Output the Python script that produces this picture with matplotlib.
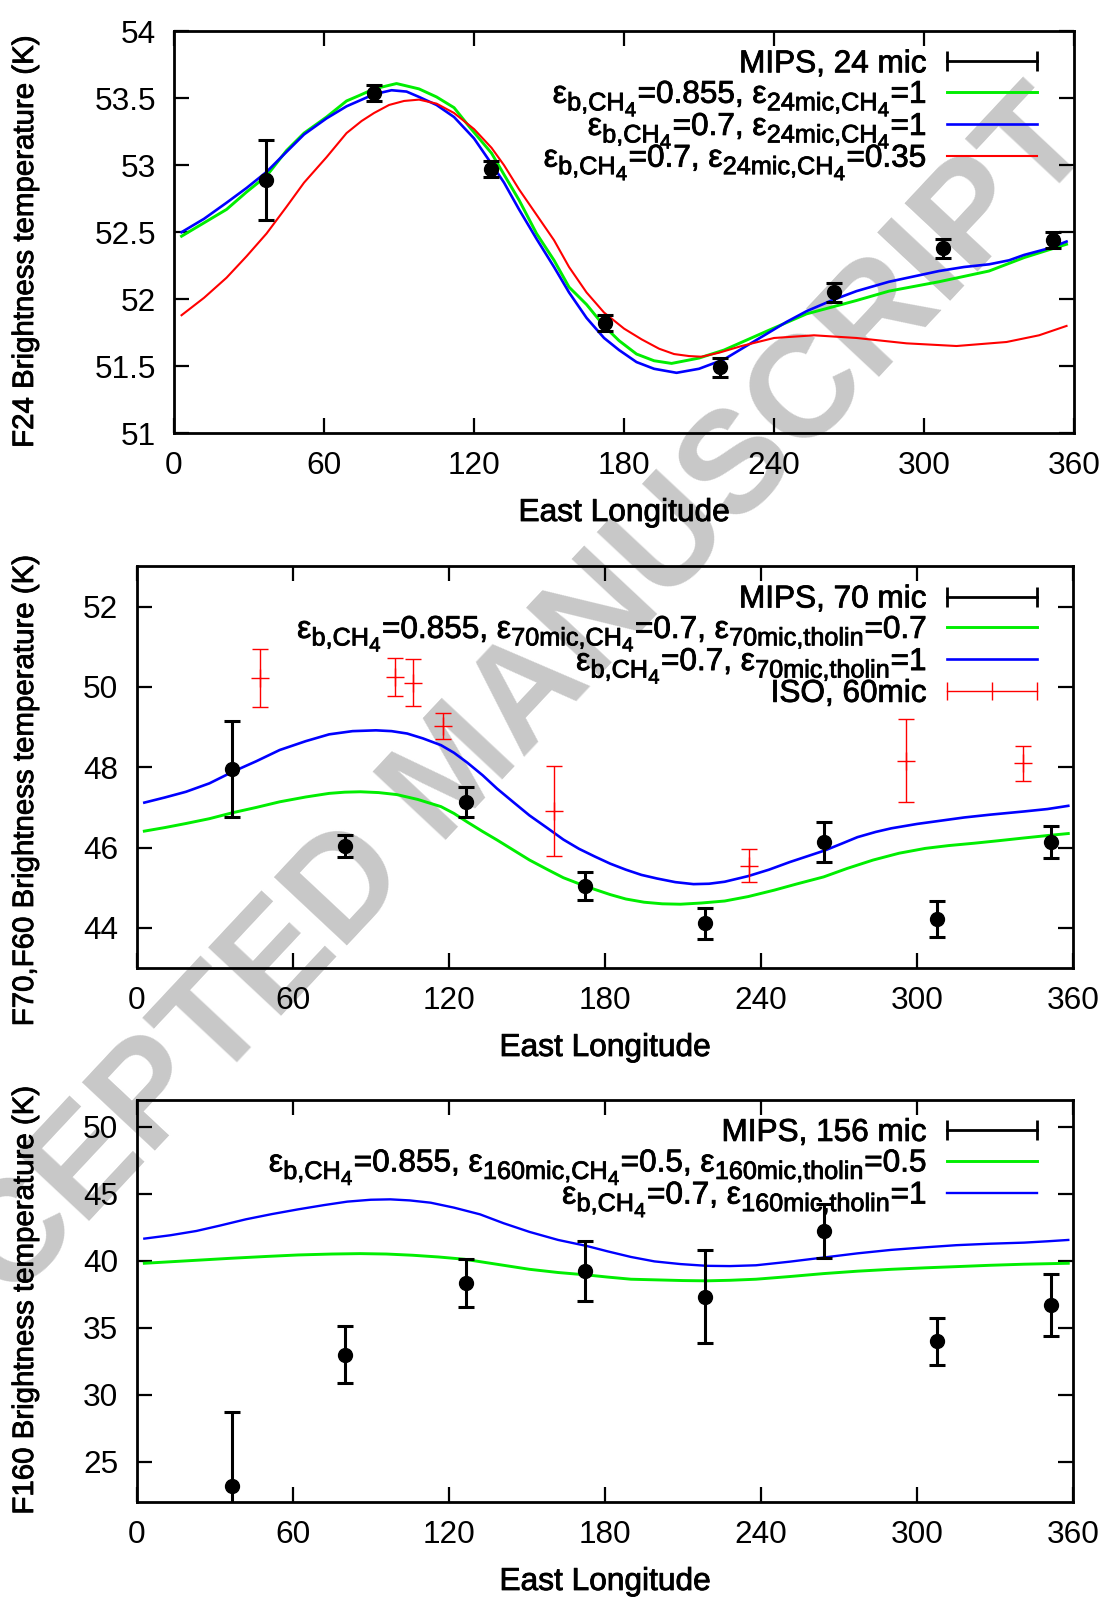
import numpy as np
import matplotlib
matplotlib.use('Agg')
import matplotlib.pyplot as plt
import matplotlib.patheffects as pe
import matplotlib._mathtext as _mt
from matplotlib.ticker import FormatStrFormatter

plt.rcParams['font.family'] = ['Liberation Sans', 'DejaVu Sans']
plt.rcParams['mathtext.fontset'] = 'custom'
plt.rcParams['mathtext.rm'] = 'Liberation Sans'
plt.rcParams['mathtext.it'] = 'Liberation Sans:italic'
plt.rcParams['mathtext.bf'] = 'Liberation Sans:bold'
# gnuplot-like subscripts: bigger and dropped lower
_mt.SHRINK_FACTOR = 0.8
_mt.FontConstantsBase.sub1 = 0.45

# MIPS observations (same longitudes in all three bands)
lon_mips = [36.8, 80.1, 126.7, 172.4, 218.4, 264.1, 307.5, 351.5]
t24 = [52.89, 53.54, 52.97, 51.82, 51.49, 52.05, 52.38, 52.44]
e24 = [0.30, 0.06, 0.06, 0.06, 0.07, 0.07, 0.07, 0.06]
t70 = [47.96, 46.04, 47.14, 45.05, 44.11, 46.14, 44.23, 46.13]
e70 = [1.19, 0.27, 0.37, 0.35, 0.38, 0.49, 0.45, 0.40]
t160 = [23.22, 32.98, 38.32, 39.24, 37.33, 42.22, 33.98, 36.68]
e160 = [5.5, 2.14, 1.8, 2.24, 3.45, 2.02, 1.77, 2.3]

# ISO 60 mic
lon_iso = [47.5, 99.2, 106.2, 117.6, 160.3, 235.3, 295.6, 340.6]
t60 = [50.22, 50.25, 50.11, 49.02, 46.91, 45.55, 48.16, 48.10]
e60 = [0.72, 0.47, 0.58, 0.32, 1.13, 0.41, 1.03, 0.44]

# model curves, 24 mic
lon_g24 = [3, 12, 21, 29, 37, 45, 52, 61, 69, 74, 80, 89, 98, 105, 112, 118, 127, 132, 138, 145, 152, 158,
           165, 172, 178, 185, 192, 199, 210, 220, 237, 253, 273, 286, 306, 326, 340, 357]
g24 = [52.47, 52.57, 52.67, 52.80, 52.92, 53.11, 53.24, 53.36, 53.48, 53.52, 53.57, 53.61, 53.57, 53.51,
       53.43, 53.29, 53.09, 52.93, 52.74, 52.49, 52.29, 52.09, 51.96, 51.80, 51.69, 51.59, 51.54, 51.52,
       51.56, 51.62, 51.76, 51.89, 51.99, 52.06, 52.13, 52.21, 52.31, 52.41]
lon_b24 = [3, 12, 21, 29, 37, 45, 52, 61, 69, 80, 87, 93, 98, 105, 112, 120, 127, 132, 138, 145, 152, 158,
           165, 172, 178, 185, 192, 201, 210, 220, 228, 237, 245, 253, 263, 273, 286, 306, 316, 326, 334,
           340, 350, 357]
b24 = [52.50, 52.60, 52.72, 52.83, 52.95, 53.10, 53.23, 53.35, 53.44, 53.53, 53.56, 53.55, 53.51, 53.45,
       53.36, 53.20, 53.01, 52.87, 52.67, 52.45, 52.24, 52.05, 51.86, 51.71, 51.62, 51.53, 51.48, 51.45,
       51.48, 51.55, 51.64, 51.74, 51.83, 51.91, 51.99, 52.06, 52.13, 52.21, 52.24, 52.26, 52.29, 52.33,
       52.38, 52.43]
lon_r24 = [3, 12, 21, 29, 37, 45, 52, 61, 69, 75, 80, 86, 92, 98, 105, 112, 120, 127, 132, 138, 145, 152,
           158, 165, 172, 180, 187, 194, 200, 206, 211, 218, 227, 240, 256, 273, 293, 313, 333, 346, 357]
r24 = [51.88, 52.01, 52.16, 52.32, 52.49, 52.69, 52.87, 53.06, 53.24, 53.33, 53.39, 53.45, 53.48, 53.49,
       53.46, 53.39, 53.27, 53.13, 53.00, 52.82, 52.63, 52.44, 52.24, 52.05, 51.90, 51.78, 51.70, 51.63,
       51.59, 51.575, 51.57, 51.60, 51.65, 51.71, 51.73, 51.71, 51.67, 51.65, 51.68, 51.73, 51.80]

# model curves, 70 mic
lon_b70 = [3, 11, 19, 28, 37, 46, 55, 65, 74, 83, 92, 98, 104, 110, 117, 122, 127, 133, 138.5, 145, 151,
           158, 164, 170, 176, 182, 188, 194, 200, 207, 214, 220, 226, 235, 243, 251, 258, 264.5, 271, 277,
           284, 290, 300, 309, 318, 328, 341, 350, 358]
b70 = [47.12, 47.25, 47.39, 47.60, 47.89, 48.15, 48.43, 48.65, 48.82, 48.90, 48.92, 48.90, 48.84, 48.72,
       48.55, 48.36, 48.12, 47.80, 47.47, 47.12, 46.80, 46.48, 46.20, 45.97, 45.78, 45.60, 45.45, 45.32,
       45.23, 45.14, 45.09, 45.10, 45.15, 45.29, 45.45, 45.64, 45.79, 45.93, 46.10, 46.26, 46.39, 46.48,
       46.59, 46.67, 46.75, 46.82, 46.90, 46.96, 47.04]
lon_g70 = [3, 11, 19, 28, 37, 46, 55, 65, 74, 80, 86, 93, 100, 108, 117, 122, 127, 133, 138.5, 145, 151,
           158, 164, 170, 176, 182, 188, 195, 202, 209, 217, 226, 235, 245, 254, 264, 273, 283, 293, 303,
           312, 322, 331, 341, 350, 358]
g70 = [46.41, 46.50, 46.60, 46.72, 46.87, 47.00, 47.14, 47.26, 47.35, 47.38, 47.39, 47.37, 47.32, 47.20,
       47.02, 46.85, 46.64, 46.40, 46.19, 45.93, 45.69, 45.45, 45.25, 45.10, 44.96, 44.83, 44.72, 44.64,
       44.60, 44.59, 44.62, 44.67, 44.78, 44.94, 45.10, 45.27, 45.48, 45.69, 45.86, 45.98, 46.05, 46.11,
       46.17, 46.24, 46.30, 46.35]

# model curves, 160 mic
lon_b160 = [3, 13, 23, 32, 42, 52, 62, 72, 81, 90, 97.5, 105, 113, 122, 132, 141, 151, 162, 173, 181, 190,
            199, 209, 219, 228, 238, 251, 264, 277, 290, 303, 315, 328, 341, 350, 358]
b160 = [41.65, 41.90, 42.22, 42.62, 43.09, 43.48, 43.83, 44.15, 44.41, 44.55, 44.58, 44.50, 44.33, 43.96,
        43.46, 42.80, 42.15, 41.55, 41.10, 40.70, 40.28, 39.95, 39.75, 39.62, 39.60, 39.66, 39.93, 40.24,
        40.55, 40.81, 41.00, 41.16, 41.27, 41.35, 41.45, 41.55]
lon_g160 = [3, 20, 36, 50, 62, 75, 86, 96, 106, 116, 126, 138, 151, 162, 173, 181, 190, 200, 210, 219, 228,
            238, 251, 264, 277, 290, 303, 315, 328, 341, 358]
g160 = [39.81, 40.00, 40.18, 40.32, 40.43, 40.50, 40.53, 40.50, 40.41, 40.28, 40.11, 39.75, 39.36, 39.12,
        38.94, 38.78, 38.62, 38.57, 38.52, 38.50, 38.54, 38.62, 38.82, 39.04, 39.22, 39.36, 39.47, 39.56,
        39.66, 39.74, 39.81]

labels24 = ['MIPS, 24 mic',
            r'ε$_{\mathrm{b{,}CH_4}}$=0.855, ε$_{\mathrm{24mic{,}CH_4}}$=1',
            r'ε$_{\mathrm{b{,}CH_4}}$=0.7, ε$_{\mathrm{24mic{,}CH_4}}$=1',
            r'ε$_{\mathrm{b{,}CH_4}}$=0.7, ε$_{\mathrm{24mic{,}CH_4}}$=0.35']
labels70 = ['MIPS, 70 mic',
            r'ε$_{\mathrm{b{,}CH_4}}$=0.855, ε$_{\mathrm{70mic{,}CH_4}}$=0.7, ε$_{\mathrm{70mic{,}tholin}}$=0.7',
            r'ε$_{\mathrm{b{,}CH_4}}$=0.7, ε$_{\mathrm{70mic{,}tholin}}$=1',
            'ISO, 60mic']
labels160 = ['MIPS, 156 mic',
             r'ε$_{\mathrm{b{,}CH_4}}$=0.855, ε$_{\mathrm{160mic{,}CH_4}}$=0.5, ε$_{\mathrm{160mic{,}tholin}}$=0.5',
             r'ε$_{\mathrm{b{,}CH_4}}$=0.7, ε$_{\mathrm{160mic{,}tholin}}$=1']

GREEN = '#00ee00'
BLUE = '#0000ff'
RED = '#ff0000'
FS = 22.7

fig = plt.figure(figsize=(11.1, 15.98), dpi=100)
fig.patch.set_facecolor('white')

ax1 = fig.add_axes([0.1568, 0.7290, 0.8108, 0.2514])
ax2 = fig.add_axes([0.1230, 0.3942, 0.8441, 0.2513])
ax3 = fig.add_axes([0.1230, 0.0601, 0.8441, 0.2516])

# watermark underneath everything
wm = fig.text(0.411, 1 - 774 / 1598, 'ACCEPTED MANUSCRIPT', rotation=46.9, rotation_mode='anchor',
              ha='center', va='center', fontsize=104, fontweight='bold', color='#c8c8c8', zorder=-5)


def style_axes(ax, ylim, yticks, ylabel, ylab_y, fmt):
    ax.set_facecolor('none')
    ax.set_xlim(0, 360)
    ax.set_ylim(*ylim)
    ax.set_xticks(range(0, 361, 60))
    ax.set_yticks(yticks)
    ax.yaxis.set_major_formatter(FormatStrFormatter(fmt))
    ax.tick_params(direction='in', length=11, width=1.6, top=True, right=True, labelsize=FS)
    ax.tick_params(axis='x', pad=13)
    ax.tick_params(axis='y', pad=13)
    for s in ax.spines.values():
        s.set_linewidth(2.0)
    ax.set_xlabel('East Longitude', fontsize=22.8, va='center')
    ax.xaxis.set_label_coords(0.5, -0.199)
    ax.set_ylabel(ylabel, fontsize=21.2, va='center')
    w = ax.get_position().width * 1110
    x0 = ax.get_position().x0 * 1110
    ax.yaxis.set_label_coords((25 - x0) / w, ylab_y)


def key(ax, labels, kinds):
    ys = [0.925, 0.849, 0.769, 0.690]
    x0, x1, xt = 0.8586, 0.9586, 0.8363
    if ax is not ax1:
        x0, x1, xt = 0.8647, 0.9608, 0.8434
    for y, lab, kind in zip(ys, labels, kinds):
        ax.text(xt, y - 0.027, lab, transform=ax.transAxes, ha='right', va='baseline', fontsize=FS)
        if kind == 'mips':
            ax.plot([x0, x1], [y, y], color='k', lw=2, transform=ax.transAxes)
            ax.plot([x0, x1], [y, y], ls='none', marker='|', ms=14, mew=2, color='k', transform=ax.transAxes)
        elif kind == 'iso':
            ax.plot([x0, x1], [y, y], color=RED, lw=1, transform=ax.transAxes)
            ax.plot([x0, (x0 + x1) / 2, x1], [y, y, y], ls='none', marker='|', ms=13, mew=1,
                    color=RED, transform=ax.transAxes)
        else:
            ax.plot([x0, x1], [y, y], color=kind[0], lw=kind[1], transform=ax.transAxes)


# panel 1: 24 micron
ax1.plot(lon_g24, g24, color=GREEN, lw=2.1)
ax1.plot(lon_b24, b24, color=BLUE, lw=1.9)
ax1.plot(lon_r24, r24, color=RED, lw=1.5)
ax1.errorbar(lon_mips, t24, yerr=e24, fmt='o', color='k', ms=10, elinewidth=2.2, capsize=5.5, capthick=2.2)
style_axes(ax1, (51, 54), np.arange(51, 54.01, 0.5), 'F24 Brightness temperature (K)', 0.475, '%g')
key(ax1, labels24, ['mips', (GREEN, 2.1), (BLUE, 1.9), (RED, 1.5)])

# panel 2: 70 micron + ISO 60 micron
ax2.plot(lon_g70, g70, color=GREEN, lw=2.1)
ax2.plot(lon_b70, b70, color=BLUE, lw=1.9)
ax2.errorbar(lon_iso, t60, yerr=e60, fmt='+', color=RED, ms=13, mew=1, elinewidth=1, capsize=6, capthick=1)
ax2.errorbar(lon_mips, t70, yerr=e70, fmt='o', color='k', ms=10, elinewidth=2.2, capsize=5.5, capthick=2.2)
style_axes(ax2, (43, 53), range(44, 53, 2), 'F70,F60 Brightness temperature (K)', 0.44, '%d')
key(ax2, labels70, ['mips', (GREEN, 2.1), (BLUE, 1.9), 'iso'])

# panel 3: 160 micron
ax3.plot(lon_g160, g160, color=GREEN, lw=2.1)
ax3.plot(lon_b160, b160, color=BLUE, lw=1.7)
ax3.errorbar(lon_mips, t160, yerr=e160, fmt='o', color='k', ms=10, elinewidth=2.2, capsize=5.5, capthick=2.2)
style_axes(ax3, (22, 52), range(25, 51, 5), 'F160 Brightness temperature (K)', 0.5, '%d')
key(ax3, labels160, ['mips', (GREEN, 2.1), (BLUE, 1.7)])

# slightly heavier text, like the postscript original
for t in fig.findobj(matplotlib.text.Text):
    if t is not wm and t.get_text():
        t.set_path_effects([pe.withStroke(linewidth=0.6, foreground=t.get_color())])

fig.savefig('out.png', dpi=100)
